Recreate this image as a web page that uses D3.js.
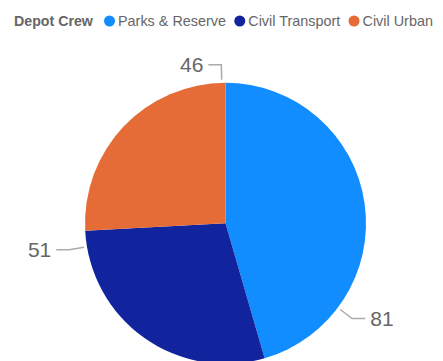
<!DOCTYPE html>
<html>
<head>
<meta charset="utf-8">
<script src="https://cdn.jsdelivr.net/npm/d3@7"></script>
<style>
  html, body { margin: 0; padding: 0; background: #fff; }
  svg { display: block; }
</style>
</head>
<body>
<svg id="chart" width="443" height="361"></svg>
<script>
// Depot crew breakdown
const legendTitle = "Depot Crew";
const categories = ["Parks & Reserve", "Civil Transport", "Civil Urban"];
const values = [81, 51, 46];
const colors = ["#118DFF", "#12239E", "#E66C37"];

const W = 443, H = 361;
const cx = 225.5, cy = 223.3, R = 140.5;

const svg = d3.select("#chart");

// Legend
const legend = svg.append("g").attr("font-family", "'Liberation Sans', Arial, sans-serif");
legend.append("text")
  .attr("x", 14).attr("y", 26)
  .attr("font-size", 14.2).attr("font-weight", "bold").attr("fill", "#666")
  .text(legendTitle);

let lx = 104;
categories.forEach((c, i) => {
  legend.append("circle")
    .attr("cx", lx + 5.5).attr("cy", 21).attr("r", 5.5)
    .attr("fill", colors[i]);
  const t = legend.append("text")
    .attr("x", lx + 14).attr("y", 26)
    .attr("font-size", 14.4).attr("fill", "#666")
    .text(c);
  lx += 14 + t.node().getComputedTextLength() + 8.3;
});

// Pie
const pie = d3.pie().sort(null).value(d => d)(values);
const arc = d3.arc().innerRadius(0).outerRadius(R);

const g = svg.append("g").attr("transform", `translate(${cx},${cy})`);
g.selectAll("path.slice")
  .data(pie)
  .join("path")
  .attr("class", "slice")
  .attr("d", arc)
  .attr("fill", (d, i) => colors[i]);

// Data labels with leader lines
const pt = (a, r) => [Math.sin(a) * r, -Math.cos(a) * r];
pie.forEach((d, i) => {
  const a = (d.startAngle + d.endAngle) / 2 + Math.PI / 4;
  const p0 = pt(a, R + 3);
  const p1 = pt(a, R + 18);
  const dir = p1[0] >= 0 ? 1 : -1;
  const p2 = [p1[0] + dir * 13, p1[1]];
  g.append("polyline")
    .attr("points", [p0, p1, p2].map(p => p.join(",")).join(" "))
    .attr("fill", "none")
    .attr("stroke", "#aaa")
    .attr("stroke-width", 1.5);
  g.append("text")
    .attr("x", p2[0] + dir * 5)
    .attr("y", p2[1])
    .attr("dy", "0.35em")
    .attr("text-anchor", dir > 0 ? "start" : "end")
    .attr("font-family", "'Liberation Sans', Arial, sans-serif")
    .attr("font-size", 21)
    .attr("fill", "#666")
    .text(values[i]);
});
</script>
</body>
</html>
